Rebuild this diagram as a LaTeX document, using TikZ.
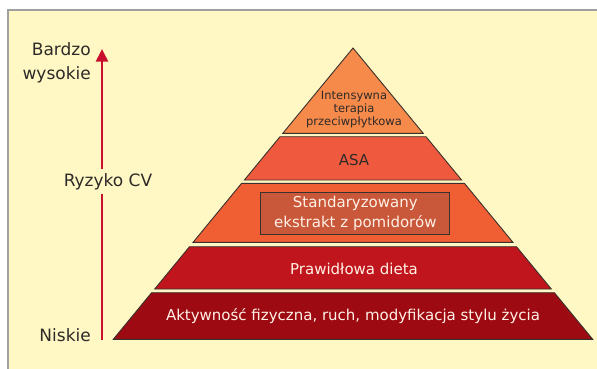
\documentclass[tikz,border=0pt]{standalone}
\usepackage{fontspec}
\setmainfont{DejaVu Sans}
\usetikzlibrary{arrows.meta}
\definecolor{bgyellow}{HTML}{FFF8C4}
\definecolor{frame}{HTML}{A0A0A0}
\definecolor{tierA}{HTML}{F58A4A}
\definecolor{tierB}{HTML}{EF5A3E}
\definecolor{tierC}{HTML}{F05E33}
\definecolor{boxC}{HTML}{C9573A}
\definecolor{tierD}{HTML}{C1151D}
\definecolor{tierE}{HTML}{9D0A12}
\definecolor{arrowred}{HTML}{C8102E}
\definecolor{darktext}{HTML}{2E2A28}
\definecolor{lighttext}{HTML}{FFF1E6}
\definecolor{edge}{HTML}{3A302C}
\tikzset{
  tierbox/.style={draw=edge, line width=0.9pt, line join=miter},
  sidelabel/.style={font=\fontsize{17}{24}\selectfont, text=darktext, inner sep=0pt},
  darklabel/.style={text=darktext, inner sep=0pt, align=center},
  lightlabel/.style={text=lighttext, inner sep=0pt, align=center},
}
\begin{document}
\begin{tikzpicture}[x=1pt,y=-1pt]
\useasboundingbox (0,0) rectangle (597,368);
% panel
\fill[bgyellow] (8,10) rectangle (600,370);
\draw[frame, line width=1.8pt] (8,370) -- (8,10) -- (600,10);
% pyramid tiers (apex 353,48; slope 0.823)
\path[tierbox, fill=tierA] (353,48) -- (423.2,133.3) -- (282.8,133.3) -- cycle;
\path[tierbox, fill=tierB] (280,136.7) -- (426,136.7) -- (461.6,180) -- (244.4,180) -- cycle;
\path[tierbox, fill=tierC] (241.6,183.3) -- (464.4,183.3) -- (512.9,242.3) -- (193.1,242.3) -- cycle;
\path[tierbox, fill=tierD] (189.5,246.7) -- (516.5,246.7) -- (551.3,289) -- (154.7,289) -- cycle;
\path[tierbox, fill=tierE] (151.6,292.7) -- (554.4,292.7) -- (592.7,339.3) -- (113.3,339.3) -- cycle;
% pyramid labels
\node[darklabel, font=\fontsize{11.5}{13.3}\selectfont] (top) at (354,109.5) {Intensywna\\terapia\\przeciwpłytkowa};
\node[darklabel, font=\fontsize{15}{18}\selectfont] (asa) at (354,160) {ASA};
\node[lightlabel, font=\fontsize{15}{19.7}\selectfont, draw=edge, line width=1.2pt, fill=boxC,
      minimum width=189pt, minimum height=42pt] (extract) at (355.3,213.3) {Standaryzowany\\ekstrakt z pomidorów};
\node[lightlabel, font=\fontsize{15}{18}\selectfont] (diet) at (354,268.5) {Prawidłowa dieta};
\node[lightlabel, font=\fontsize{15}{18}\selectfont] (activity) at (353,316) {Aktywność fizyczna, ruch, modyfikacja stylu życia};
% axis
\coordinate (axisbottom) at (102,339.5);
\coordinate (axistop) at (102,49);
\draw[arrowred, line width=2pt, -{Triangle[width=12pt,length=12.5pt]}] (axisbottom) -- (axistop);
\node[sidelabel, fill=bgyellow, inner xsep=0pt, inner ysep=4pt] (risk) at (108,181.5) {Ryzyko CV};
\node[sidelabel, anchor=base east] (high) at (91,55.5) {Bardzo};
\node[sidelabel, anchor=base east] (high2) at (91,79.5) {wysokie};
\node[sidelabel, anchor=base east] (low) at (91,341) {Niskie};
\end{tikzpicture}
\end{document}
